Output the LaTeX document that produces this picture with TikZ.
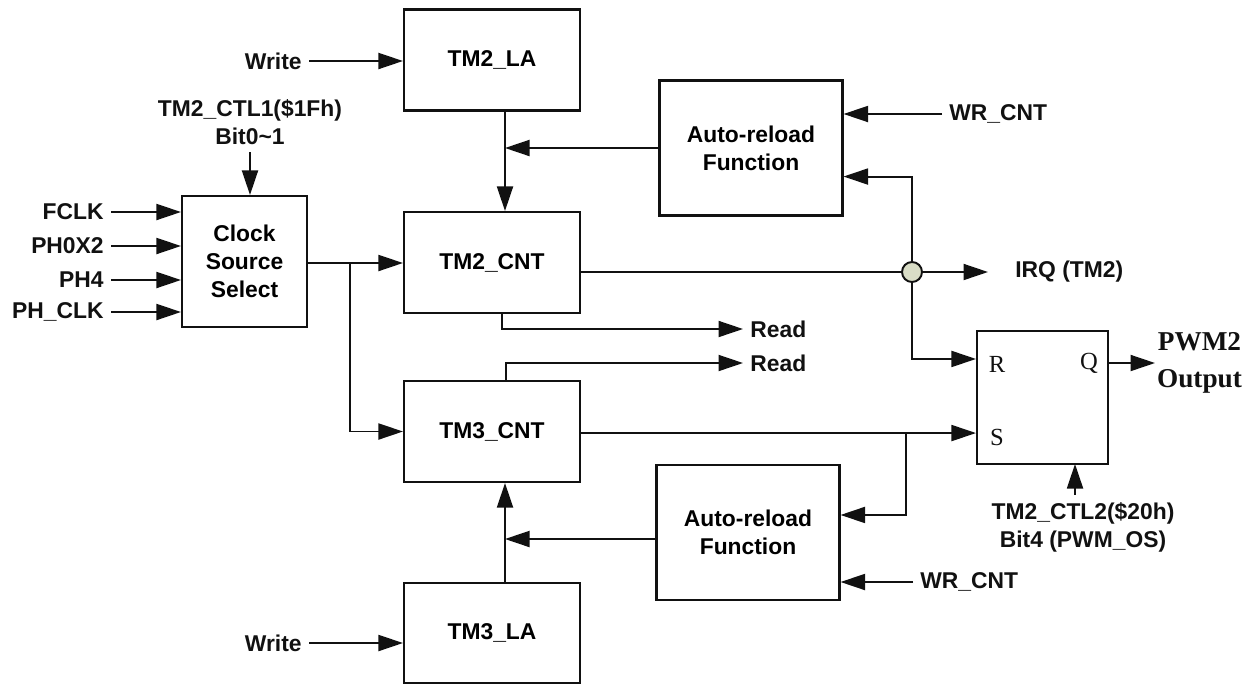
\documentclass[tikz,border=0pt]{standalone}
\usepackage{fontspec}
\setmainfont{Liberation Sans}
\newfontfamily\ffserif{Liberation Serif}
\usetikzlibrary{arrows.meta,calc}
\definecolor{tmInk}{HTML}{111111}
\definecolor{tmDot}{HTML}{D9DDC6}
\newcommand{\tmfont}{\fontsize{13}{16}\selectfont\bfseries}
\tikzset{
  box/.style    ={draw=tmInk,line width=1.2pt,fill=white,align=center,
                  font=\tmfont,inner sep=2pt},
  regbox/.style ={box,minimum width=3.52cm,minimum height=2.02cm},
  arbox/.style  ={box,minimum width=3.66cm,minimum height=2.7cm},
  selbox/.style ={box,minimum width=2.5cm,minimum height=2.62cm},
  ffbox/.style  ={box,minimum width=2.62cm,minimum height=2.66cm},
  wire/.style   ={tmInk,line width=1.1pt},
  sig/.style    ={wire,-{Triangle[length=4.9mm,width=3.2mm]}},
  lbl/.style    ={font=\tmfont,text=tmInk,inner sep=4pt},
  pin/.style    ={font=\ffserif\fontsize{14}{16}\selectfont,text=tmInk,inner sep=0pt},
  jdot/.style   ={circle,draw=tmInk,line width=1.1pt,fill=tmDot,
                  minimum size=0.4cm,inner sep=0pt},
}

\begin{document}
\begin{tikzpicture}[x=0.02cm,y=-0.02cm]
\useasboundingbox (0,0) rectangle (1253,684);
% ── clock source ───────────────────────────────────────────────────────────
\node[selbox] (css) at (244.5,261.5) {Clock\\Source\\Select};
\node[lbl,align=center] (ctl1) at (250,122) {TM2\_CTL1(\$1Fh)\\Bit0\textasciitilde1};
\node[lbl,anchor=east] (fclk)  at (111,212) {FCLK};
\node[lbl,anchor=east] (ph0)   at (111,246) {PH0X2};
\node[lbl,anchor=east] (ph4)   at (111,280) {PH4};
\node[lbl,anchor=east] (phclk) at (111,312) {PH\_CLK};
\foreach \n in {fclk,ph0,ph4,phclk}
  \draw[sig] (\n.east) -- (\n.east -| css.west);
\draw[sig] (ctl1.south) -- (ctl1.south |- css.north);

% ── timer 2 ────────────────────────────────────────────────────────────────
\node[regbox] (la2)  at (492,60)    {TM2\_LA};
\node[regbox] (cnt2) at (492,262.5) {TM2\_CNT};
\node[arbox]  (ar2)  at (751,148)   {Auto-reload\\Function};
\node[lbl,anchor=east] (wr2)  at (309,61)  {Write};
\node[lbl,anchor=west] (wrc2) at (942,114) {WR\_CNT};
\node[lbl,anchor=west] (rd2)  at (743,329) {Read};
\node[jdot] (circ) at (912,272) {};
\node[lbl,anchor=west] (irq) at (1008,272) {IRQ (TM2)};
\coordinate (irqend) at (988,272);
\coordinate (j2) at (505,148);
\draw[sig] (wr2.east) -- (wr2.east -| la2.west);
\draw[sig] (j2 |- la2.south) -- (j2 |- cnt2.north);
\draw[sig] (ar2.west) -- (j2);
\draw[sig] (wrc2.west) -- (wrc2.west -| ar2.east);
\draw[sig] ($(cnt2.south)+(10,0)$) |- (rd2.west);
\draw[wire] (cnt2.east |- circ) -- (circ);
\draw[sig] (circ) -- (irqend);
\draw[sig] (circ.north) |- ($(ar2.south east)+(0,-40)$);

% ── timer 3 ────────────────────────────────────────────────────────────────
\node[regbox] (cnt3) at (492,431.5) {TM3\_CNT};
\node[regbox,minimum height=2cm] (la3) at (492,633) {TM3\_LA};
\node[arbox]  (ar3)  at (748,532.5) {Auto-reload\\Function};
\node[lbl,anchor=east] (wr3)  at (309,643) {Write};
\node[lbl,anchor=west] (wrc3) at (913,582) {WR\_CNT};
\node[lbl,anchor=west] (rd3)  at (743,363) {Read};
\coordinate (j3) at (505,539);
\coordinate (sbr) at (906,432);
\draw[sig] (wr3.east) -- (wr3.east -| la3.west);
\draw[sig] (j3 |- la3.north) -- (j3 |- cnt3.south);
\draw[sig] (ar3.west |- j3) -- (j3);
\draw[sig] (wrc3.west) -- (wrc3.west -| ar3.east);
\draw[sig] ($(cnt3.north)+(14,0)$) |- (rd3.west);
\draw[sig] (sbr) |- ($(ar3.north east)+(0,51)$);

% ── clock to counters ──────────────────────────────────────────────────────
\coordinate (cbr) at (350,263);
\draw[sig] (css.east |- cbr) -- (cbr -| cnt2.west);
\draw[sig] (cbr) |- (cnt3.west);

% ── PWM flip-flop ──────────────────────────────────────────────────────────
\node[ffbox] (ff) at (1042.5,397.5) {};
\node[pin] (pr) at (997,364) {R};
\node[pin] (ps) at (997,437) {S};
\node[pin] (pq) at (1089,363) {Q};
\node[font=\ffserif\fontsize{15.5}{21}\selectfont\bfseries,text=tmInk,
      align=center,anchor=west,inner xsep=1pt] (pwm) at (1155,363) {PWM2\\Output};
\node[lbl,align=center] (ctl2) at (1083,527) {TM2\_CTL2(\$20h)\\Bit4 (PWM\_OS)};
\coordinate (rin) at ($(ff.north west)+(0,29)$);
\coordinate (sin) at ($(ff.south west)+(0,-32)$);
\coordinate (osb) at (1075,464);
\draw[sig] (circ.south) |- (rin);
\draw[sig] (cnt3.east |- sin) -- (sin);
\draw[sig] (pwm.west -| ff.east) -- (pwm.west);
\draw[sig] (osb |- ctl2.north) -- (osb);
\end{tikzpicture}
\end{document}
